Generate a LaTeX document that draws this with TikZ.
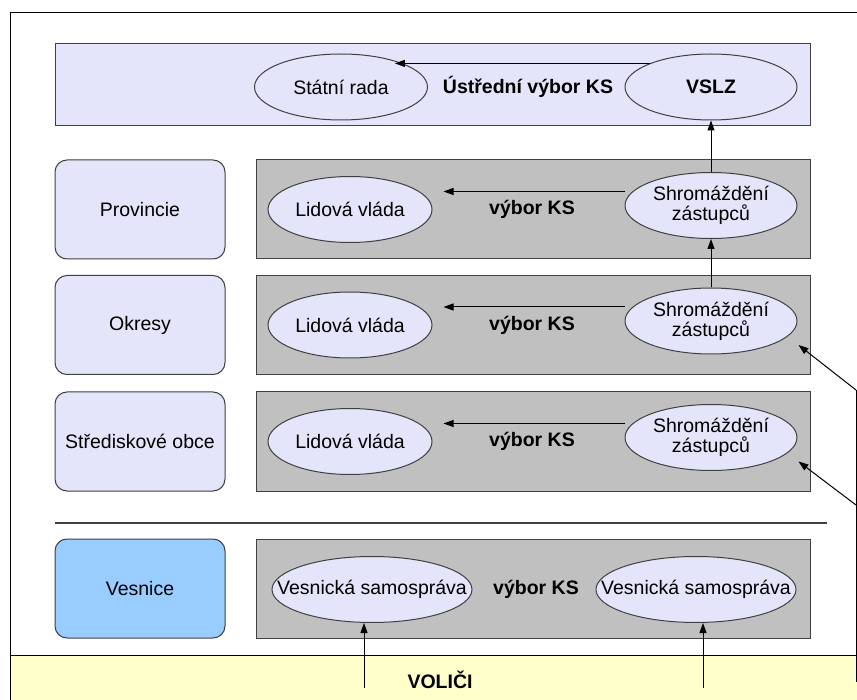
\documentclass[tikz,border=0pt]{standalone}
\usepackage{fontspec}
\setmainfont{Liberation Sans}
\usetikzlibrary{shapes.geometric,arrows.meta,calc}
\definecolor{lav}{RGB}{228,228,250}
\definecolor{silverband}{RGB}{192,192,192}
\definecolor{vesblue}{RGB}{153,204,255}
\definecolor{volyellow}{RGB}{255,255,204}
\definecolor{edge}{RGB}{64,64,64}
\tikzset{
  lbl/.style={font=\fontsize{19.5}{20}\selectfont},
  boldlbl/.style={font=\fontsize{19.5}{20}\selectfont\bfseries},
  level/.style={lbl, draw=edge, fill=lav, rounded corners=12pt,
    minimum width=170pt, minimum height=99pt, inner sep=0pt},
  band/.style={draw=edge, fill=silverband, minimum width=554pt,
    minimum height=99pt, inner sep=0pt},
  oval/.style={lbl, ellipse, draw=edge, fill=lav, minimum width=#1,
    minimum height=66pt, inner sep=0pt, align=center},
  village/.style={oval=200pt, inner xsep=-30pt},
  arr/.style={-{Triangle[length=10pt,width=7pt]}},
}
\begin{document}
\begin{tikzpicture}[x=1pt, y=-1pt, line width=1pt]
\useasboundingbox (0,0) rectangle (857,700);
\fill[white] (0,0) rectangle (857,700);
\fill[volyellow] (10,655) rectangle (857,700);
\draw (10,655) -- (857,655);
\draw (10,700) |- (857,13);

\node[draw=edge, fill=lav, minimum width=755pt, minimum height=82pt, inner sep=0pt] (top) at (432.5,85) {};
\node[oval=173pt] (statni) at (341,87) {Státní rada};
\node[oval=172pt, boldlbl] (vslz) at (711,87) {VSLZ};
\node[boldlbl] (uvks) at (528,87) {Ústřední výbor KS};
\draw[arr] (vslz.159) -- (vslz.159 -| statni.26);

\foreach \n/\name/\y in {prov/Provincie/209.5, okr/Okresy/325, str/Střediskové obce/441.5}{
  \node[level] (\n) at (140,\y) {\name};
  \node[band] (\n band) at (533,\y) {};
  \node[oval=164pt] (\n lid) at (350,\y) {Lidová vláda};
  \node[oval=172pt] (\n shr) at (711,\y-4) {Shromáždění\\zástupců};
  \node[boldlbl] (\n ks) at (532,\y) {výbor KS};
  \draw[arr, shorten >=11pt] ($(\n shr.west)+(0,-14)$) coordinate (\n a) -- (\n a -| \n lid.east);
}
\draw[arr] (provshr) -- (vslz);
\draw[arr] (okrshr) -- (provshr);

\coordinate (volE) at (856,682);
\coordinate (kinkA) at (856,390);
\coordinate (kinkB) at (856,505);
\draw (volE) -- (kinkA);
\draw[arr] (kinkA) -- ($(okrshr.east)+(1,24)$);
\draw[arr] (kinkB) -- ($(strshr.east)+(1,24)$);

\draw[edge, line width=1.2pt] (55,523) -- (827,523);

\node[level, fill=vesblue] (ves) at (140,588.5) {Vesnice};
\node[band] (vesband) at (533,588.5) {};
\node[village] (vesl) at (372,589.5) {Vesnická samospráva};
\node[village] (vesr) at (696,589.5) {Vesnická samospráva};
\node[boldlbl] (vesks) at (536,589) {výbor KS};

\node[boldlbl] (volici) at (440,680) {VOLIČI};
\coordinate (volL) at (364,688);
\coordinate (volR) at (703,688);
\draw[arr] (volL) -- (volL |- vesl.south);
\draw[arr] (volR) -- (volR |- vesr.south);
\end{tikzpicture}
\end{document}
